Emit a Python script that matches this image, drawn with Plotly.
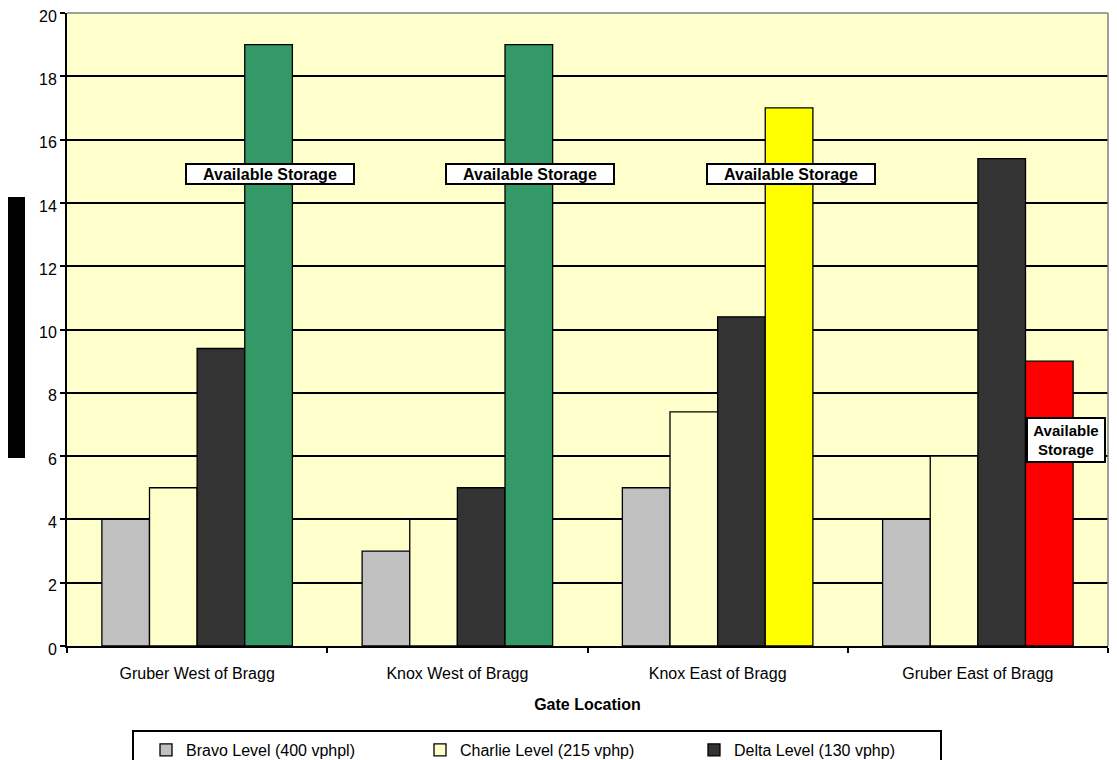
import plotly.graph_objects as go

categories = ["Gruber West of Bragg", "Knox West of Bragg", "Knox East of Bragg", "Gruber East of Bragg"]
bravo = [4, 3, 5, 4]
charlie = [5, 4, 7.4, 6]
delta = [9.4, 5, 10.4, 15.4]
storage = [19, 19, 17, 9]
storage_colors = ["#339966", "#339966", "#FFFF00", "#FF0000"]
y_ticks = [0, 2, 4, 6, 8, 10, 12, 14, 16, 18, 20]

FONT = "Liberation Sans, Arial, sans-serif"
# page body adds an 8px offset; plot area in screenshot: x 67..1108, y 13..646
W, H = 1109, 752
L, T = 59, 5
PW, PH = 1041, 633
R = W - L - PW
B = H - T - PH

def px_x(p):
    return (p - 67) / PW

def px_y(p):
    return (646 - p) / PH

line = dict(color="black", width=1.3)
fig = go.Figure()
fig.add_bar(x=categories, y=bravo, name="Bravo Level (400 vphpl)",
            marker=dict(color="#C0C0C0", line=line))
fig.add_bar(x=categories, y=charlie, name="Charlie Level (215 vphp)",
            marker=dict(color="#FFFFCC", line=line))
fig.add_bar(x=categories, y=delta, name="Delta Level (130 vphp)",
            marker=dict(color="#333333", line=line))
fig.add_bar(x=categories, y=storage, name="Available Storage", showlegend=False,
            marker=dict(color=storage_colors, line=line))

annotations = []
for i, cat in enumerate(categories):
    if i < 3:
        annotations.append(dict(x=cat, y=14.9, xref="x", yref="y", xshift=73,
                                text="<b>Available Storage</b>", showarrow=False,
                                bgcolor="white", bordercolor="black", borderwidth=2,
                                borderpad=0, width=166, height=18,
                                font=dict(family=FONT, size=16, color="black")))
    else:
        annotations.append(dict(x=cat, y=6.5, xref="x", yref="y", xshift=88,
                                text="<b>Available<br>Storage</b>", showarrow=False,
                                bgcolor="white", bordercolor="black", borderwidth=2,
                                borderpad=0, width=76, height=42,
                                font=dict(family=FONT, size=15, color="black")))

shapes = [
    dict(type="line", xref="paper", yref="paper", x0=0, x1=1, y0=1, y1=1,
         line=dict(color="#808080", width=1.5), layer="above"),
    dict(type="line", xref="paper", yref="paper", x0=1, x1=1, y0=0, y1=1,
         line=dict(color="#808080", width=1.5), layer="above"),
    dict(type="rect", xref="paper", yref="paper",
         x0=px_x(7), x1=px_x(25), y0=px_y(458), y1=px_y(197),
         fillcolor="black", line=dict(width=0)),
    dict(type="rect", xref="paper", yref="paper",
         x0=px_x(133), x1=px_x(941), y0=px_y(780), y1=px_y(731),
         fillcolor="rgba(0,0,0,0)", line=dict(color="black", width=2)),
]

fig.update_layout(
    width=W, height=H,
    margin=dict(l=L, r=R, t=T, b=B, autoexpand=False),
    paper_bgcolor="white", plot_bgcolor="#FFFFCC",
    barmode="group", bargap=0.268, bargroupgap=0,
    font=dict(family=FONT, size=16, color="black"),
    showlegend=True,
    legend=dict(orientation="h", x=px_x(146), xanchor="left", y=px_y(733), yanchor="top",
                entrywidth=229, entrywidthmode="pixels",
                bgcolor="rgba(0,0,0,0)", borderwidth=0,
                font=dict(family=FONT, size=16, color="black"), traceorder="normal"),
    annotations=annotations,
    shapes=shapes,
    xaxis=dict(type="category", tickson="boundaries", ticks="outside", ticklen=5,
               tickcolor="black", tickwidth=1.5, showline=True, linecolor="black", linewidth=2,
               showgrid=False, ticklabelstandoff=12,
               tickfont=dict(family=FONT, size=16, color="black"),
               title=dict(text="<b>Gate Location</b>", standoff=18,
                          font=dict(family=FONT, size=16, color="black"))),
    yaxis=dict(range=[0, 20], tickvals=y_ticks, ticks="outside", ticklen=5,
               tickcolor="black", tickwidth=1.5, showline=True, linecolor="black", linewidth=2,
               showgrid=True, gridcolor="black", gridwidth=1.6, zeroline=False,
               ticklabeloverflow="allow", ticklabelshift=3,
               tickfont=dict(family=FONT, size=16, color="black")),
)

fig.write_html("out.html", post_script="document.documentElement.style.overflow='hidden'; document.body.style.overflow='hidden';")
